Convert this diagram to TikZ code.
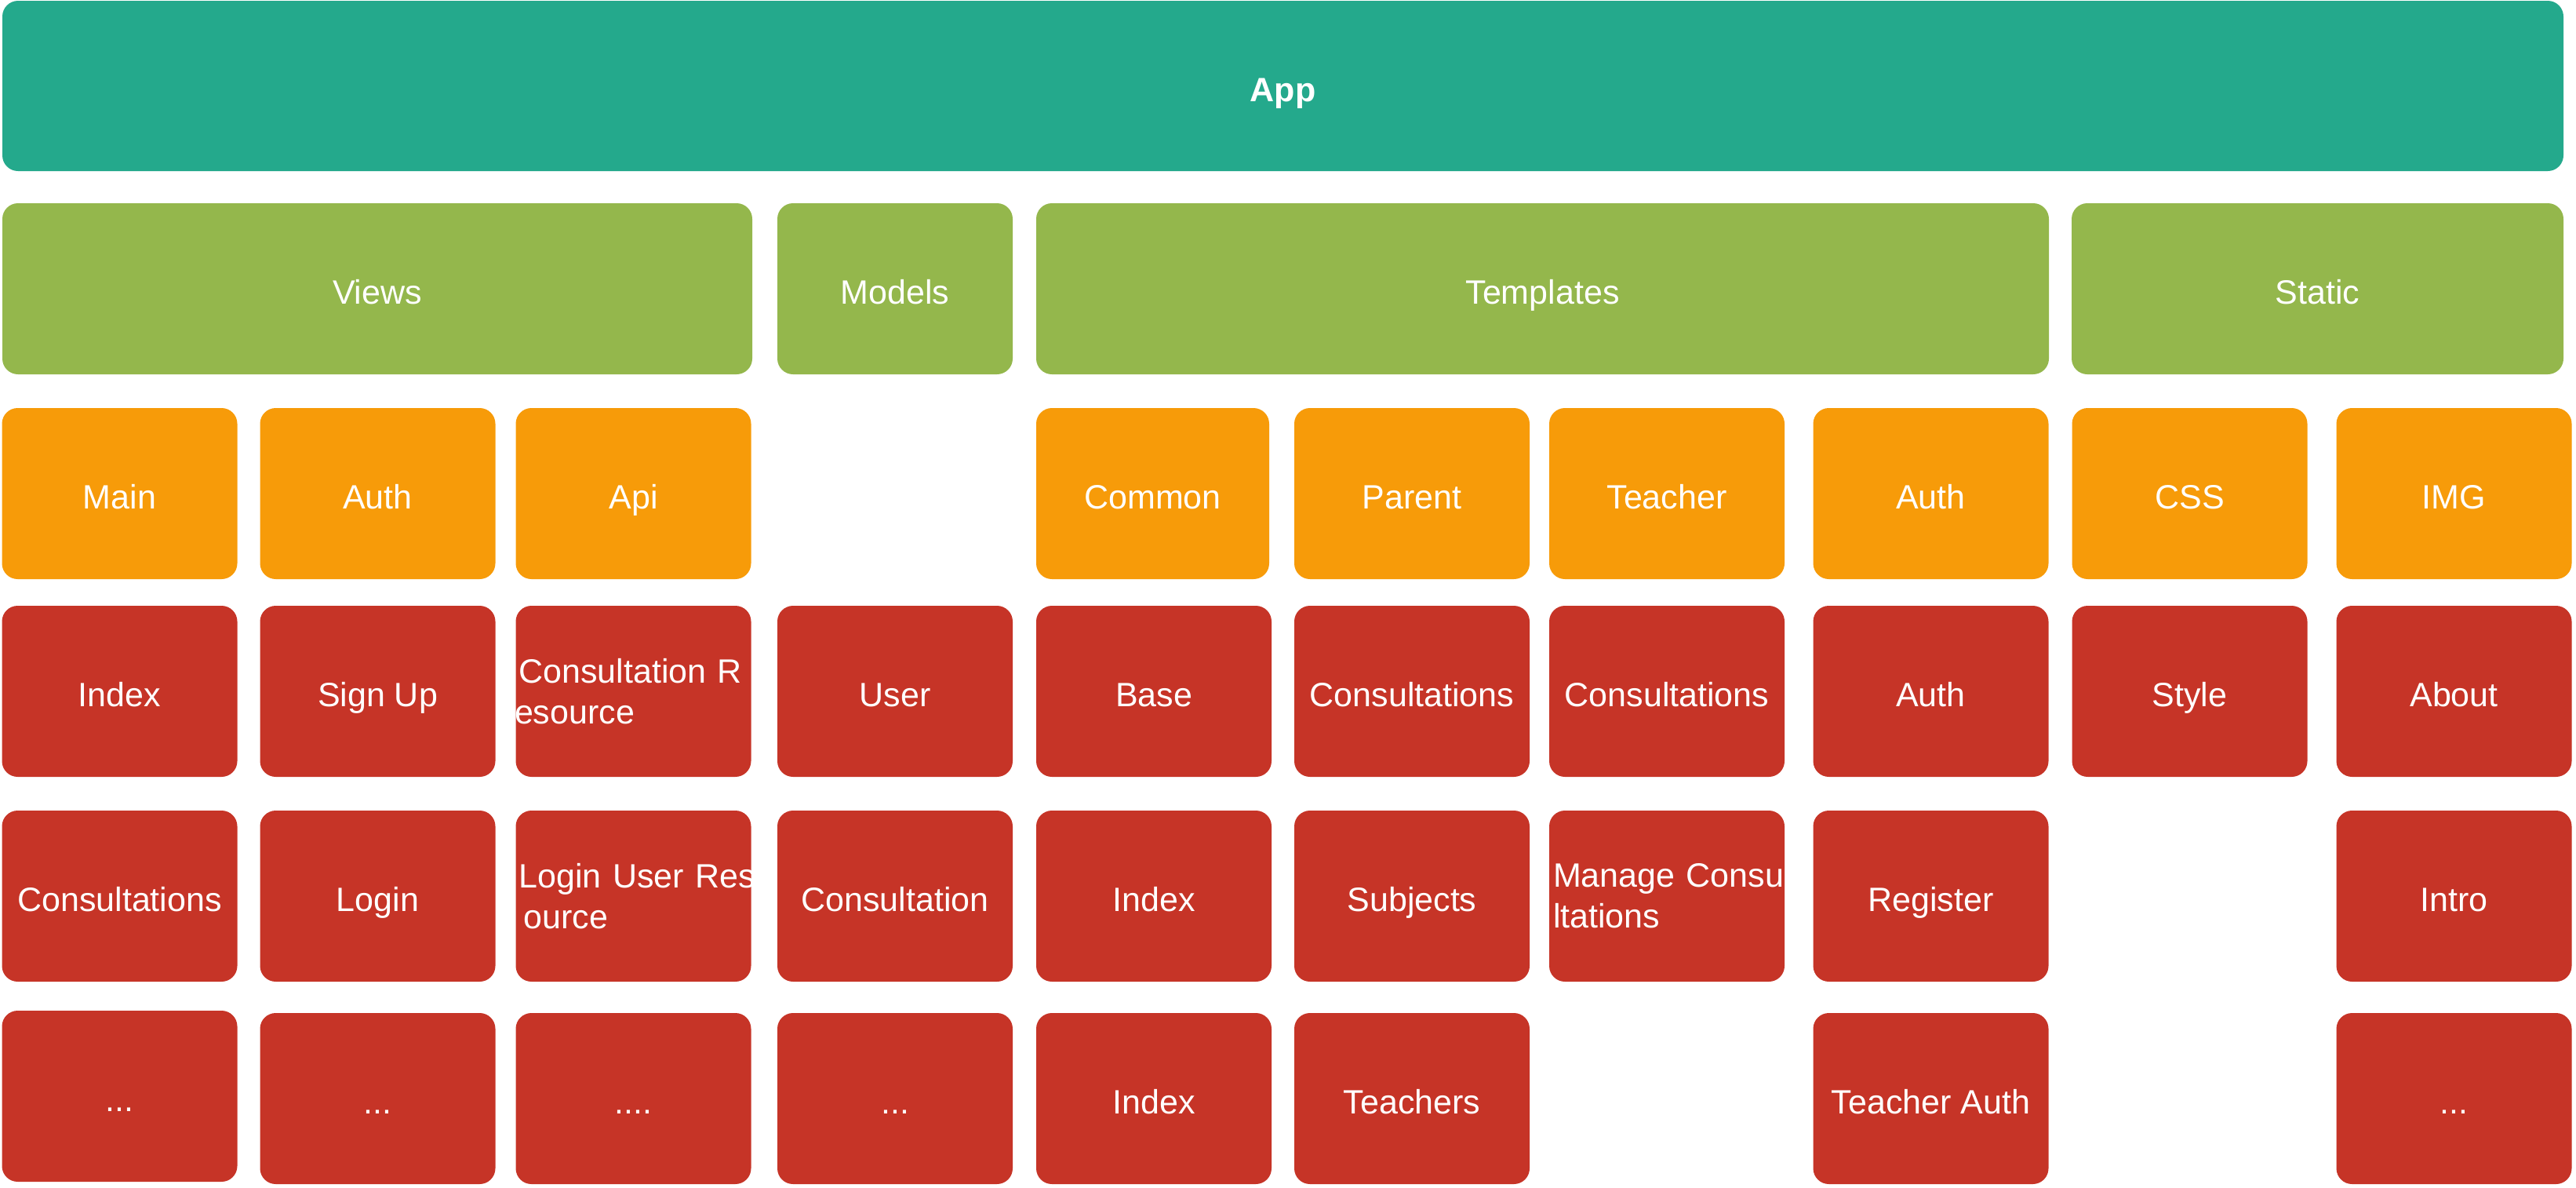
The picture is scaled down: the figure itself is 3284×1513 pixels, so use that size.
\documentclass[tikz,border=0pt]{standalone}
\usepackage{fontspec}
\setmainfont{Liberation Sans}
\definecolor{appteal}{RGB}{36,169,140}
\definecolor{grpgreen}{RGB}{148,183,76}
\definecolor{dirorange}{RGB}{247,155,9}
\definecolor{filered}{RGB}{198,52,39}
\tikzset{
  tile/.style={rectangle, rounded corners=20pt, draw=none, inner sep=0pt, outer sep=0pt,
    text=white, font=\fontsize{43}{52}\selectfont, minimum width=300pt, minimum height=218pt},
  oneline/.style={text height=39pt, text depth=0pt},
  appbox/.style={tile, oneline, fill=appteal, font=\fontsize{43}{52}\selectfont\bfseries},
  grpbox/.style={tile, oneline, fill=grpgreen},
  dirbox/.style={tile, oneline, fill=dirorange},
  filebox/.style={tile, oneline, fill=filered},
  wrapbox/.style={tile, fill=filered, align=left, text width=290pt}
}
\begin{document}
\begin{tikzpicture}[x=1pt, y=-1pt]
\useasboundingbox (0,0) rectangle (3284,1513);

% top level
\node[appbox, minimum width=3265pt, minimum height=217pt] (app) at (1635.5,109.5) {App};

% package groups
\node[grpbox, minimum width=956pt] (views) at (481,368) {Views};
\node[grpbox] (models) at (1141,368) {Models};
\node[grpbox, minimum width=1291pt] (templates) at (1966.5,368) {Templates};
\node[grpbox, minimum width=627pt] (static) at (2954.5,368) {Static};

% folders
\node[dirbox] (vmain) at (152.5,629) {Main};
\node[dirbox] (vauth) at (481.5,629) {Auth};
\node[dirbox] (vapi) at (807.5,629) {Api};
\node[dirbox, minimum width=297pt] (tcommon) at (1469.5,629) {Common};
\node[dirbox] (tparent) at (1800,629) {Parent};
\node[dirbox] (tteacher) at (2125,629) {Teacher};
\node[dirbox] (tauth) at (2461.5,629) {Auth};
\node[dirbox] (scss) at (2791.5,629) {CSS};
\node[dirbox] (simg) at (3128.5,629) {IMG};

% files, first row
\node[filebox] (mindex) at (152.5,881) {Index};
\node[filebox] (asignup) at (481.5,881) {Sign Up};
\node[wrapbox] (aconsres) at (807.5,881)
  {\hspace*{-1pt}\mbox{Consultation R}\\\hspace*{-6.5pt}\mbox{esource}};
\node[filebox] (muser) at (1141,881) {User};
\node[filebox] (cbase) at (1471,881) {Base};
\node[filebox] (pcons) at (1800,881) {Consultations};
\node[filebox] (tcons) at (2125,881) {Consultations};
\node[filebox] (tauthf) at (2461.5,881) {Auth};
\node[filebox] (cstyle) at (2791.5,881) {Style};
\node[filebox] (iabout) at (3128.5,881) {About};

% files, second row
\node[filebox] (mcons) at (152.5,1142) {Consultations};
\node[filebox] (alogin) at (481.5,1142) {Login};
\node[wrapbox] (aloginres) at (807.5,1142)
  {\hspace*{-1pt}\mbox{Login User Res}\\\hspace*{5pt}\mbox{ource}};
\node[filebox] (mconsult) at (1141,1142) {Consultation};
\node[filebox] (cindex) at (1471,1142) {Index};
\node[filebox] (psubj) at (1800,1142) {Subjects};
\node[wrapbox] (tmanage) at (2125,1142)
  {\mbox{Manage Consu}\\\mbox{ltations}};
\node[filebox] (treg) at (2461.5,1142) {Register};
\node[filebox] (iintro) at (3128.5,1142) {Intro};

% files, third row
\node[filebox] (mmore) at (152.5,1397) {...};
\node[filebox] (amore) at (481.5,1400) {...};
\node[filebox] (apimore) at (807.5,1400) {....};
\node[filebox] (modmore) at (1141,1400) {...};
\node[filebox] (cindex2) at (1471,1400) {Index};
\node[filebox] (pteach) at (1800,1400) {Teachers};
\node[filebox] (tteachauth) at (2461.5,1400) {Teacher Auth};
\node[filebox] (imore) at (3128.5,1400) {...};
\end{tikzpicture}
\end{document}
